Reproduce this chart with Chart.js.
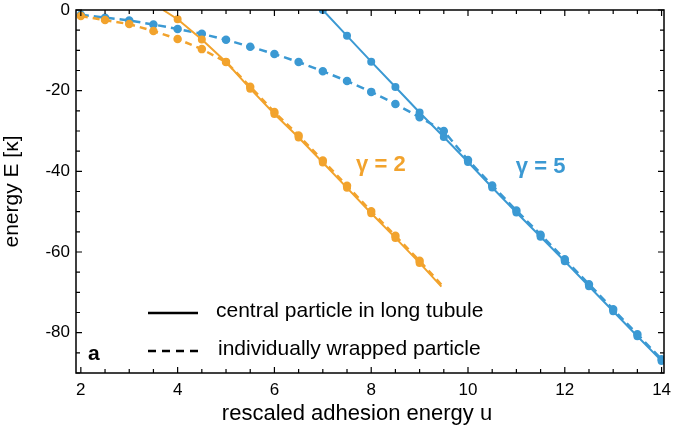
<!DOCTYPE html>
<html>
<head>
<meta charset="utf-8">
<script src="https://cdn.jsdelivr.net/npm/chart.js@4.4.0/dist/chart.umd.min.js"></script>
<style>
  html, body { margin: 0; padding: 0; background: #fff; }
</style>
</head>
<body>
<canvas id="energyChart" width="673" height="432"></canvas>
<script>
const xTickValues = [2, 4, 6, 8, 10, 12, 14];
const yTickValues = [0, -20, -40, -60, -80];

// gamma = 2
const g2CentralU = [3.7, 4, 4.5, 5, 5.5, 6, 6.5, 7, 7.5, 8, 8.5, 9, 9.45];
const g2CentralE = [0, -2.3, -7.3, -12.9, -19.5, -25.8, -31.6, -37.8, -44.1, -50.4, -56.5, -62.7, -68.6];
const g2WrappedU = [2, 2.5, 3, 3.5, 4, 4.5, 5, 5.5, 6, 6.5, 7, 7.5, 8, 8.5, 9, 9.45];
const g2WrappedE = [-1.5, -2.5, -3.5, -5.2, -7.2, -9.7, -12.9, -19.0, -25.3, -31.1, -37.3, -43.6, -49.9, -56.0, -62.2, -68.1];

// gamma = 5
const g5CentralU = [7, 7.5, 8, 8.5, 9, 9.5, 10, 10.5, 11, 11.5, 12, 12.5, 13, 13.5, 14];
const g5CentralE = [0, -6.4, -12.8, -19.1, -25.4, -31.5, -37.7, -44.0, -50.2, -56.2, -62.3, -68.5, -74.7, -80.9, -87.0];
const g5WrappedU = [2, 2.5, 3, 3.5, 4, 4.5, 5, 5.5, 6, 6.5, 7, 7.5, 8, 8.5, 9, 9.5, 10, 10.5, 11, 11.5, 12, 12.5, 13, 13.5, 14];
const g5WrappedE = [-1.2, -1.9, -2.6, -3.6, -4.7, -5.9, -7.4, -9.1, -10.9, -12.9, -15.2, -17.6, -20.3, -23.3, -26.6, -30.0, -37.2, -43.5, -49.7, -55.7, -61.8, -68.0, -74.2, -80.4, -86.6];

const orange = 'rgb(242, 163, 45)';
const blue = 'rgb(59, 153, 211)';
const fontFamily = '"Liberation Sans", Arial, Helvetica, sans-serif';

function toPoints(us, es) {
    return us.map((u, i) => ({ x: u, y: es[i] }));
}

// hide the marker on the extra end point of a curve that runs past the last sample
function hideEnds(first, last) {
    return ctx => {
        const n = ctx.dataset.data.length;
        if ((first && ctx.dataIndex === 0) || (last && ctx.dataIndex === n - 1)) return 0;
        return 3;
    };
}

const frameAndText = {
    id: 'frameAndText',
    afterDatasetsDraw(chart) {
        const { ctx, chartArea: a, scales: { x, y } } = chart;
        ctx.save();

        // frame
        ctx.strokeStyle = '#000';
        ctx.lineWidth = 1.5;
        ctx.strokeRect(a.left, a.top, a.right - a.left, a.bottom - a.top);

        // inward ticks on all four sides
        ctx.lineWidth = 1.2;
        ctx.beginPath();
        for (let u = 2; u <= 14.001; u += 0.5) {
            const px = x.getPixelForValue(u);
            const len = Math.round(u * 2) % 4 === 0 ? 6 : 4;
            ctx.moveTo(px, a.bottom); ctx.lineTo(px, a.bottom - len);
            ctx.moveTo(px, a.top); ctx.lineTo(px, a.top + len);
        }
        for (let e = 0; e >= -90; e -= 5) {
            const py = y.getPixelForValue(e);
            const len = e % 20 === 0 ? 6 : 4;
            ctx.moveTo(a.left, py); ctx.lineTo(a.left + len, py);
            ctx.moveTo(a.right, py); ctx.lineTo(a.right - len, py);
        }
        ctx.stroke();

        // curve labels
        ctx.textAlign = 'center';
        ctx.textBaseline = 'alphabetic';
        ctx.font = 'bold 22px ' + fontFamily;
        ctx.fillStyle = orange;
        ctx.fillText('γ = 2', x.getPixelForValue(8.2), y.getPixelForValue(-40));
        ctx.fillStyle = blue;
        ctx.fillText('γ = 5', x.getPixelForValue(11.5), y.getPixelForValue(-40.4));

        // x axis title, sitting a little left of centre as in the figure
        ctx.fillStyle = '#000';
        ctx.font = '22px ' + fontFamily;
        ctx.fillText('rescaled adhesion energy u', 357, 420);

        // panel letter
        ctx.textAlign = 'left';
        ctx.font = 'bold 21px ' + fontFamily;
        ctx.fillText('a', a.left + 12, 360);

        // legend
        ctx.font = '21px ' + fontFamily;
        ctx.fillText('central particle in long tubule', 216, 317);
        ctx.fillText('individually wrapped particle', 218, 355);
        ctx.lineWidth = 2.5;
        ctx.beginPath();
        ctx.moveTo(148, 313); ctx.lineTo(198, 313);
        ctx.stroke();
        ctx.setLineDash([8, 6]);
        ctx.beginPath();
        ctx.moveTo(148, 351); ctx.lineTo(198, 351);
        ctx.stroke();

        ctx.restore();
    }
};

const energyChart = new Chart(document.getElementById('energyChart').getContext('2d'), {
    type: 'scatter',
    data: {
        datasets: [
            {
                label: 'gamma 5 wrapped',
                data: toPoints(g5WrappedU, g5WrappedE),
                showLine: true,
                borderColor: blue,
                backgroundColor: blue,
                borderWidth: 2.5,
                borderDash: [8, 5],
                pointRadius: 3,
                order: 4
            },
            {
                label: 'gamma 5 central',
                data: toPoints(g5CentralU, g5CentralE),
                showLine: true,
                borderColor: blue,
                backgroundColor: blue,
                borderWidth: 2,
                pointRadius: 3,
                order: 3
            },
            {
                label: 'gamma 2 wrapped',
                data: toPoints(g2WrappedU, g2WrappedE),
                showLine: true,
                borderColor: orange,
                backgroundColor: orange,
                borderWidth: 2.5,
                borderDash: [7, 5],
                pointRadius: hideEnds(false, true),
                order: 2
            },
            {
                label: 'gamma 2 central',
                data: toPoints(g2CentralU, g2CentralE),
                showLine: true,
                borderColor: orange,
                backgroundColor: orange,
                borderWidth: 2,
                pointRadius: hideEnds(true, true),
                order: 1
            }
        ]
    },
    options: {
        responsive: false,
        animation: false,
        devicePixelRatio: 1,
        layout: { padding: { left: 0, right: 9, top: 10, bottom: 0 } },
        plugins: {
            legend: { display: false },
            tooltip: { enabled: false }
        },
        elements: { point: { hoverRadius: 3 } },
        scales: {
            x: {
                type: 'linear',
                min: 1.9,
                max: 14.05,
                afterBuildTicks: scale => { scale.ticks = xTickValues.map(v => ({ value: v })); },
                afterFit: scale => {
                    scale.height = 59;
                    scale.paddingLeft = 0;
                    scale.paddingRight = 0;
                },
                grid: { display: false, drawTicks: false },
                border: { display: false },
                ticks: {
                    color: '#000',
                    padding: 7,
                    maxRotation: 0,
                    font: { family: fontFamily, size: 17 }
                },
                title: { display: false }
            },
            y: {
                type: 'linear',
                min: -90,
                max: 0,
                afterBuildTicks: scale => { scale.ticks = yTickValues.map(v => ({ value: v })); },
                afterFit: scale => {
                    scale.width = 76;
                    scale.paddingTop = 0;
                    scale.paddingBottom = 0;
                },
                grid: { display: false, drawTicks: false },
                border: { display: false },
                ticks: {
                    color: '#000',
                    padding: 6,
                    font: { family: fontFamily, size: 17 }
                },
                title: {
                    display: true,
                    text: 'energy E [κ]',
                    color: '#000',
                    font: { family: fontFamily, size: 21 },
                    padding: { top: 0, bottom: 2 }
                }
            }
        }
    },
    plugins: [frameAndText]
});
</script>
</body>
</html>
